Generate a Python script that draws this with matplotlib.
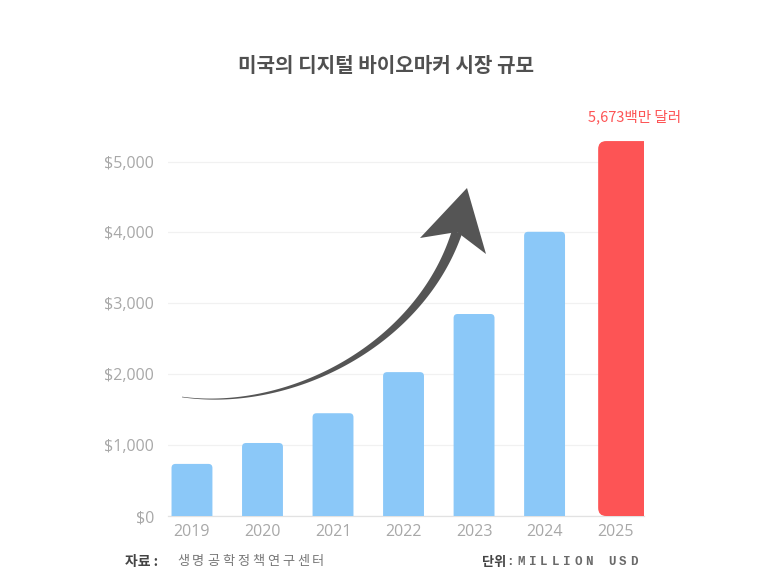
import matplotlib
matplotlib.use("Agg")
import matplotlib.pyplot as plt
import numpy as np
from matplotlib.patches import FancyBboxPatch, Polygon

years = ["2019", "2020", "2021", "2022", "2023", "2024", "2025"]
values = [735, 1030, 1450, 2030, 2850, 4010, 5673]
y_ticks = [0, 1000, 2000, 3000, 4000, 5000]
y_tick_labels = ["$0", "$1,000", "$2,000", "$3,000", "$4,000", "$5,000"]

TITLE = "미국의 디지털 바이오마커 시장 규모"
LAST_LABEL = "5,673백만 달러"
SOURCE_HEAD = "자료 :"
SOURCE_TEXT = "생명공학정책연구센터"
UNIT_HEAD = "단위"
UNIT_TEXT = ":MILLION USD"

BLUE = "#8bc8f8"
RED = "#fd5455"
W, H = 773, 584
KR = ["Noto Sans CJK KR", "DejaVu Sans"]
NUM = ["Open Sans", "Noto Sans CJK KR"]
Y_MAX = 5290


def fig_xy(x, y):
    return (x / W, 1.0 - y / H)


def spaced_text(fig, text, x0, y, pitch, **kw):
    # letter-spaced text: one glyph per slot
    for k, ch in enumerate(text):
        if ch != " ":
            fig.text(*fig_xy(x0 + k * pitch, y), ch, ha="center", va="center", **kw)


fig = plt.figure(figsize=(W / 100, H / 100), dpi=100)
ax = fig.add_axes([168 / W, 1 - 516 / H, (644 - 168) / W, (516 - 140) / H])
ax.set_xlim(-0.34, 6.41)
ax.set_ylim(0, Y_MAX + 15)

# pixels per data unit, used to keep the rounded corners circular
px_x = (644 - 168) / (6.41 + 0.34)
px_y = (516 - 140) / (Y_MAX + 15)
aspect = px_x / px_y

bar_w = 0.58
for i, v in enumerate(values[:-1]):
    patch = FancyBboxPatch(
        (i - bar_w / 2, -200), bar_w, v + 200,
        boxstyle=f"round,pad=0,rounding_size={4 / px_x}",
        mutation_aspect=aspect, facecolor=BLUE, edgecolor="none", zorder=3,
    )
    ax.add_patch(patch)

# highlighted last bar: capped at the top of the frame, runs past the right edge
i_last = len(values) - 1
patch = FancyBboxPatch(
    (i_last - 0.24, 0), 0.9, min(values[-1], Y_MAX),
    boxstyle=f"round,pad=0,rounding_size={8 / px_x}",
    mutation_aspect=aspect, facecolor=RED, edgecolor="none", zorder=3,
)
ax.add_patch(patch)

ax.set_yticks(y_ticks)
ax.set_yticklabels(y_tick_labels, family=NUM, fontsize=11.5, color="#a8a8a8")
ax.set_xticks(range(len(years)))
ax.set_xticklabels(years, family=NUM, fontsize=11.5, color="#a8a8a8")
ax.tick_params(axis="both", length=0)
ax.tick_params(axis="y", pad=10)
ax.tick_params(axis="x", pad=6)
ax.grid(axis="y", color="#f1f1f1", linewidth=0.9, zorder=0)
ax.set_axisbelow(True)
for side in ["left", "right", "top"]:
    ax.spines[side].set_visible(False)
ax.spines["bottom"].set_color("#e2e2e2")
ax.spines["bottom"].set_linewidth(0.9)

fig.text(*fig_xy(386, 65), TITLE, ha="center", va="center",
         family=KR, fontsize=14.5, fontweight="bold", color="#505050")
fig.text(*fig_xy(635, 117), LAST_LABEL, ha="center", va="center",
         family=KR, fontsize=10.5, fontweight="medium", color=RED)

# footer
fig.text(*fig_xy(125, 562), SOURCE_HEAD, ha="left", va="center",
         family=KR, fontsize=10, fontweight="bold", color="#444444")
spaced_text(fig, SOURCE_TEXT, 183, 562, 15.0, family=KR, fontsize=9.5, color="#777777")
fig.text(*fig_xy(482, 562), UNIT_HEAD, ha="left", va="center",
         family=KR, fontsize=9.5, fontweight="bold", color="#444444")
spaced_text(fig, UNIT_TEXT, 510, 562, 11.3, family=["Liberation Mono"],
            fontsize=9, fontweight="bold", color="#6a6a6a")

# curved growth arrow (decoration)
p0, p1, p2, p3 = (np.array(p, float) for p in [(182, 397), (290, 412), (420, 345), (457, 232)])
t = np.linspace(0, 1, 120)[:, None]
curve = (1 - t) ** 3 * p0 + 3 * (1 - t) ** 2 * t * p1 + 3 * (1 - t) * t ** 2 * p2 + t ** 3 * p3
deriv = 3 * (1 - t) ** 2 * (p1 - p0) + 6 * (1 - t) * t * (p2 - p1) + 3 * t ** 2 * (p3 - p2)
normal = np.column_stack([-deriv[:, 1], deriv[:, 0]])
normal /= np.linalg.norm(normal, axis=1)[:, None]
half = (0.3 + 5.0 * t[:, 0] ** 1.3)[:, None]
outline = np.vstack([curve + normal * half, (curve - normal * half)[::-1]])
body = Polygon([fig_xy(x, y) for x, y in outline], closed=True,
               transform=fig.transFigure, facecolor="#555555", edgecolor="none")
fig.patches.append(body)
head_pts = [(467, 188), (486, 254), (457, 232), (420, 238)]
head = Polygon([fig_xy(x, y) for x, y in head_pts], closed=True,
               transform=fig.transFigure, facecolor="#555555", edgecolor="none")
fig.patches.append(head)

fig.savefig("out.png", dpi=100, facecolor="white")
